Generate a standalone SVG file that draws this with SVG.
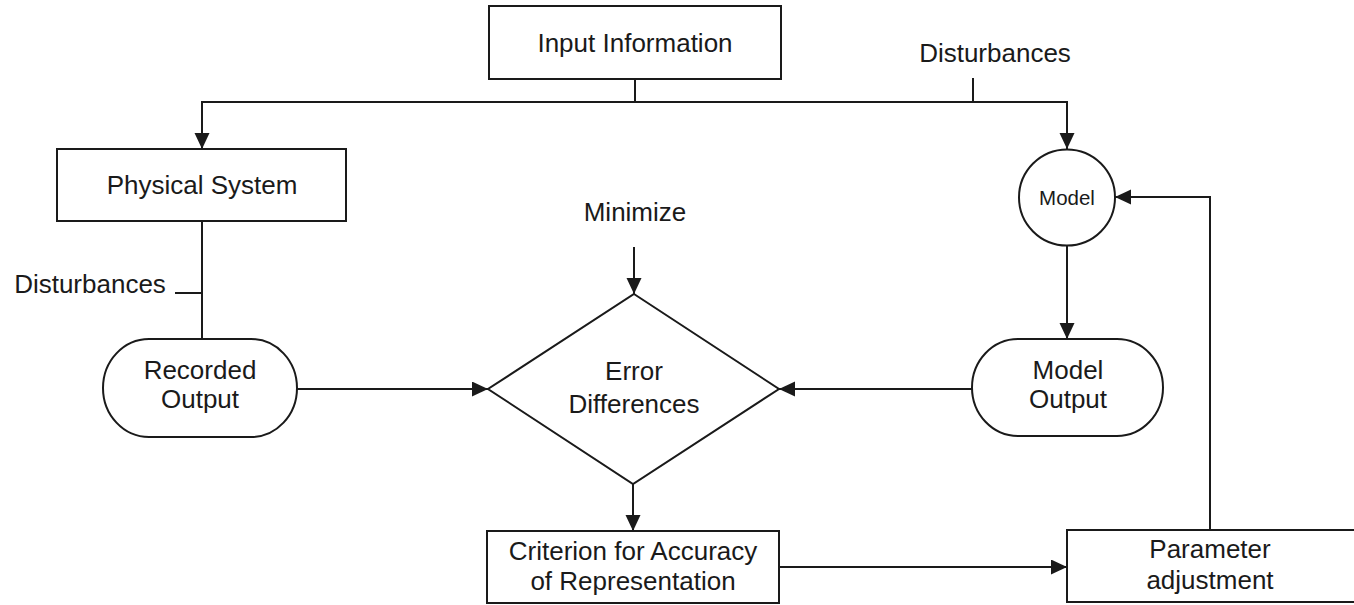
<svg xmlns="http://www.w3.org/2000/svg" width="1354" height="605" viewBox="0 0 1354 605">
  <style>
    .shape { fill: #ffffff; stroke: #1a1a1a; stroke-width: 2; }
    .wire { fill: none; stroke: #1a1a1a; stroke-width: 2; }
    .arrow { marker-end: url(#head); }
    text { font-family: "Liberation Sans", Arial, sans-serif; font-size: 26px; fill: #1a1a1a; text-anchor: middle; }
    .small { font-size: 20.5px; }
  </style>
  <defs>
    <marker id="head" markerUnits="userSpaceOnUse" markerWidth="18" markerHeight="16" refX="16" refY="7.5" orient="auto">
      <path d="M0,0 L16,7.5 L0,15 z" fill="#1a1a1a"/>
    </marker>
  </defs>

  <rect width="1354" height="605" fill="#ffffff"/>

  <!-- connectors -->
  <g id="connectors">
    <path class="wire" d="M635,79 V102"/>
    <path class="wire arrow" d="M635,102 H202 V149"/>
    <path class="wire arrow" d="M635,102 H1067 V149"/>
    <path class="wire" d="M973,78 V102"/>
    <path class="wire" d="M202,221 V339"/>
    <path class="wire" d="M175,293 H202"/>
    <path class="wire arrow" d="M297,389 H488"/>
    <path class="wire arrow" d="M972,389 H779"/>
    <path class="wire arrow" d="M634,247 V294"/>
    <path class="wire arrow" d="M633,484 V531"/>
    <path class="wire arrow" d="M779,567 H1067"/>
    <path class="wire arrow" d="M1210,530 V197 H1115"/>
    <path class="wire arrow" d="M1067,246 V339"/>
  </g>

  <!-- free labels -->
  <g id="labels">
    <text x="995" y="62">Disturbances</text>
    <text x="90" y="293">Disturbances</text>
    <text x="635" y="221">Minimize</text>
  </g>

  <g id="input-information">
    <rect class="shape" x="489" y="6" width="292" height="73"/>
    <text x="635" y="52">Input Information</text>
  </g>

  <g id="physical-system">
    <rect class="shape" x="57" y="149" width="289" height="72"/>
    <text x="202" y="194">Physical System</text>
  </g>

  <g id="model">
    <circle class="shape" cx="1067" cy="197.5" r="48"/>
    <text class="small" x="1067" y="205">Model</text>
  </g>

  <g id="recorded-output">
    <rect class="shape" x="103" y="339" width="194" height="98" rx="46" ry="49"/>
    <text x="200" y="379">Recorded</text>
    <text x="200" y="408">Output</text>
  </g>

  <g id="model-output">
    <rect class="shape" x="972" y="339" width="191" height="97" rx="46" ry="48.5"/>
    <text x="1068" y="379">Model</text>
    <text x="1068" y="408">Output</text>
  </g>

  <g id="error-differences">
    <polygon class="shape" points="634,294 779,389 633,484 488,389"/>
    <text x="634" y="380">Error</text>
    <text x="634" y="413">Differences</text>
  </g>

  <g id="criterion">
    <rect class="shape" x="487" y="531" width="292" height="72"/>
    <text x="633" y="560">Criterion for Accuracy</text>
    <text x="633" y="590">of Representation</text>
  </g>

  <g id="parameter-adjustment">
    <rect class="shape" x="1067" y="530" width="300" height="72"/>
    <text x="1210" y="558">Parameter</text>
    <text x="1210" y="589">adjustment</text>
  </g>
</svg>
